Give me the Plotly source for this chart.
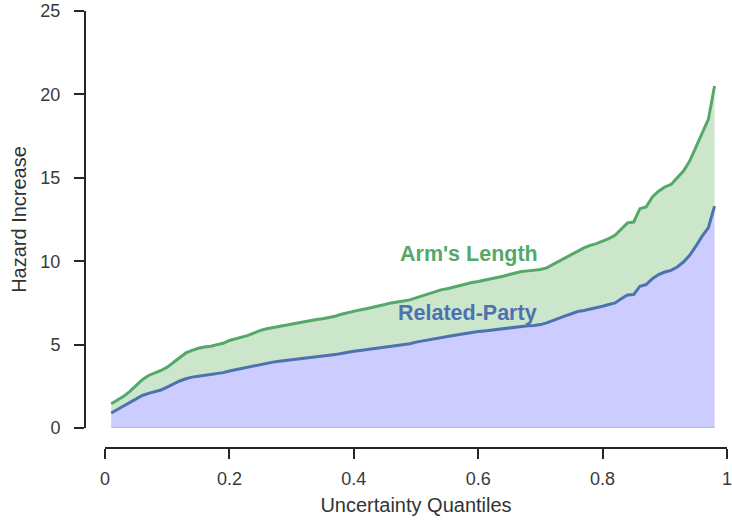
import plotly.graph_objects as go

quantiles = [round(0.01 * i, 2) for i in range(1, 99)]

arms_length = [
    1.45, 1.65, 1.9, 2.2, 2.55, 2.9, 3.15, 3.3, 3.45, 3.65,
    3.95, 4.25, 4.5, 4.65, 4.78, 4.85, 4.9, 5.0, 5.08, 5.25,
    5.35, 5.42, 5.55, 5.7, 5.85, 5.95, 6.02, 6.08, 6.15, 6.25,
    6.3, 6.38, 6.45, 6.5, 6.55, 6.62, 6.7, 6.82, 6.92, 7.0,
    7.08, 7.15, 7.22, 7.3, 7.4, 7.5, 7.58, 7.62, 7.68, 7.8,
    7.92, 8.05, 8.15, 8.28, 8.35, 8.45, 8.55, 8.65, 8.72, 8.78,
    8.85, 8.92, 9.0, 9.1, 9.2, 9.3, 9.38, 9.42, 9.45, 9.5,
    9.6, 9.8, 10.05, 10.25, 10.4, 10.6, 10.8, 10.95, 11.05, 11.2,
    11.35, 11.55, 11.95, 12.3, 12.35, 13.15, 13.25, 13.85, 14.2, 14.45,
    14.6, 15.0, 15.4, 16.0, 16.8, 17.7, 18.5, 20.5,
]

related_party = [
    0.9, 1.1, 1.3, 1.55, 1.75, 1.95, 2.08, 2.18, 2.28, 2.45,
    2.65, 2.82, 2.95, 3.05, 3.1, 3.15, 3.2, 3.27, 3.32, 3.42,
    3.5, 3.55, 3.62, 3.72, 3.82, 3.9, 3.95, 4.0, 4.03, 4.08,
    4.13, 4.18, 4.22, 4.26, 4.3, 4.35, 4.4, 4.47, 4.55, 4.6,
    4.65, 4.7, 4.75, 4.8, 4.85, 4.9, 4.93, 4.97, 5.05, 5.15,
    5.22, 5.3, 5.38, 5.45, 5.5, 5.55, 5.6, 5.67, 5.73, 5.78,
    5.82, 5.87, 5.92, 5.97, 6.02, 6.07, 6.1, 6.13, 6.15, 6.2,
    6.3, 6.45, 6.6, 6.72, 6.85, 6.98, 7.05, 7.12, 7.2, 7.3,
    7.4, 7.5, 7.75, 7.98, 8.0, 8.5, 8.6, 8.95, 9.2, 9.35,
    9.45, 9.65, 9.95, 10.35, 10.9, 11.5, 12.0, 13.3,
]

x_ticks = [0, 0.2, 0.4, 0.6, 0.8, 1]
x_tick_labels = ["0", "0.2", "0.4", "0.6", "0.8", "1"]
y_ticks = [0, 5, 10, 15, 20, 25]
y_tick_labels = ["0", "5", "10", "15", "20", "25"]

GREEN = "#55A868"
BLUE = "#4C72B0"
FONT = "Liberation Sans, Arial, sans-serif"
W, H = 732, 523

fig = go.Figure()
# baseline (fill edge at zero)
fig.add_trace(go.Scatter(x=quantiles, y=[0] * len(quantiles), mode="lines",
                         line=dict(color="rgba(0,0,255,0.22)", width=1.2),
                         hoverinfo="skip", showlegend=False))
# blue fill
fig.add_trace(go.Scatter(x=quantiles, y=related_party, mode="lines", fill="tonexty",
                         fillcolor="rgba(0,0,255,0.2)", line=dict(width=0),
                         hoverinfo="skip", showlegend=False))
# green fill
fig.add_trace(go.Scatter(x=quantiles, y=arms_length, mode="lines", fill="tonexty",
                         fillcolor="rgba(0,128,0,0.2)", line=dict(width=0),
                         hoverinfo="skip", showlegend=False))
# lines
fig.add_trace(go.Scatter(x=quantiles, y=arms_length, mode="lines",
                         line=dict(color=GREEN, width=3), name="Arm's Length",
                         showlegend=False))
fig.add_trace(go.Scatter(x=quantiles, y=related_party, mode="lines",
                         line=dict(color=BLUE, width=3), name="Related-Party",
                         showlegend=False))

fig.add_annotation(x=0.585, y=10.45, xref="x", yref="y", text="<b>Arm's Length</b>",
                   showarrow=False, xanchor="center", yanchor="middle",
                   font=dict(family=FONT, size=21.5, color=GREEN))
fig.add_annotation(x=0.583, y=6.9, xref="x", yref="y", text="<b>Related-Party</b>",
                   showarrow=False, xanchor="center", yanchor="middle",
                   font=dict(family=FONT, size=21.5, color=BLUE))

axis_common = dict(
    showgrid=False, zeroline=False, showline=True, linecolor="#262626", linewidth=2,
    ticks="outside", ticklen=10, tickwidth=2, tickcolor="#262626",
    tickfont=dict(family=FONT, size=18, color="#3a3a3a"),
    ticklabeloverflow="allow",
    automargin=False,
)

fig.update_layout(
    width=W, height=H,
    margin=dict(l=0, r=0, t=0, b=0, autoexpand=False),
    paper_bgcolor="white", plot_bgcolor="rgba(0,0,0,0)",
    font=dict(family=FONT, color="#262626"),
    xaxis=dict(
        **axis_common,
        range=[0, 1], domain=[105 / W, 727 / W],
        anchor="free", position=(H - 447.5) / H,
        tickvals=x_ticks, ticktext=x_tick_labels, ticklabelstandoff=5,
        title=dict(text="Uncertainty Quantiles", standoff=9,
                   font=dict(family=FONT, size=20, color="#333333")),
    ),
    yaxis=dict(
        **axis_common,
        range=[0, 25], domain=[(H - 428) / H, (H - 11) / H],
        anchor="free", position=85 / W,
        tickvals=y_ticks, ticktext=y_tick_labels, ticklabelstandoff=10,
        title=dict(text="Hazard Increase", standoff=7,
                   font=dict(family=FONT, size=20, color="#333333")),
    ),
)

fig.write_html("out.html")
